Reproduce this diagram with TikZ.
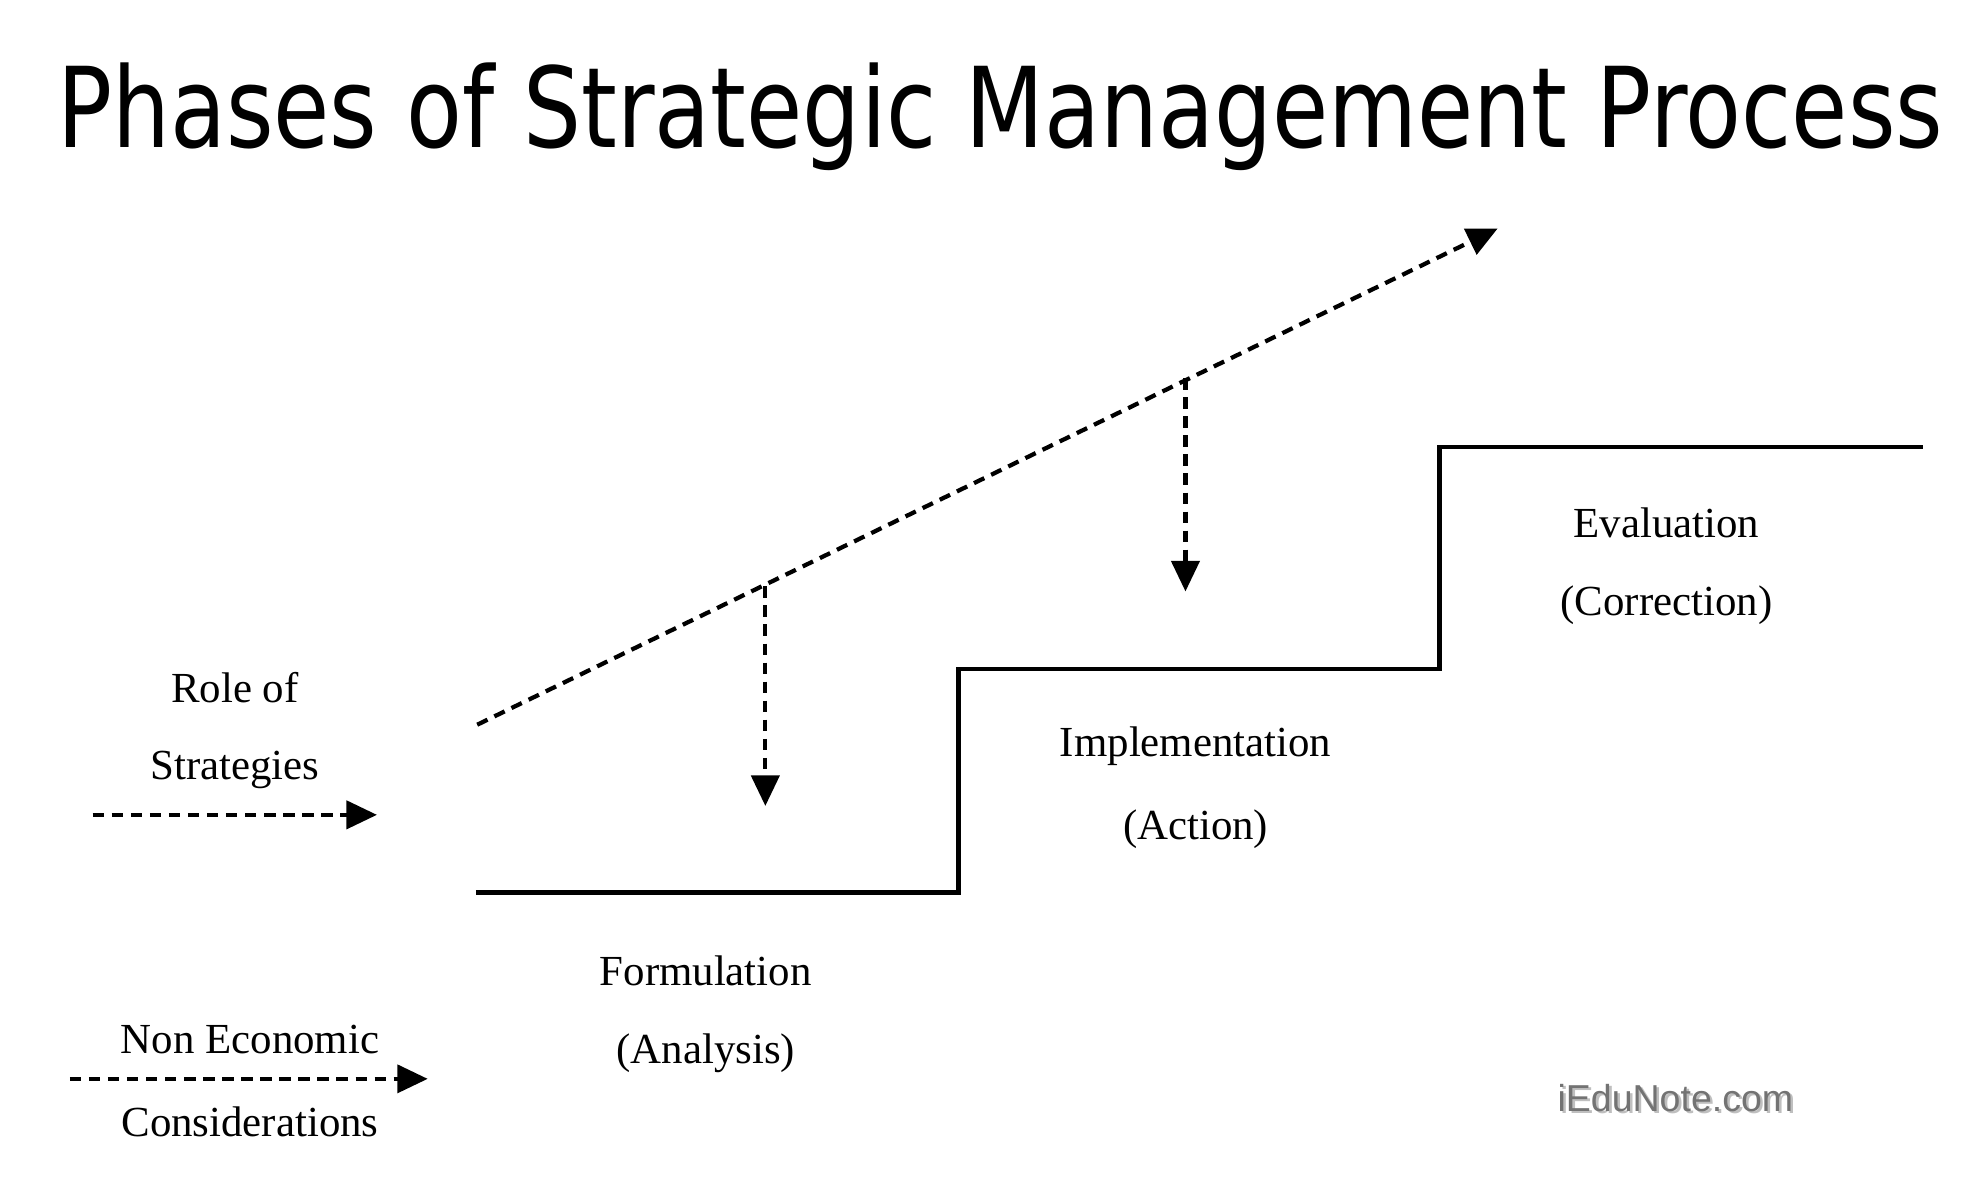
\documentclass[tikz,border=0pt]{standalone}
\usepackage{fontspec}
\setmainfont{Liberation Serif}
\newfontfamily\titlefont{DejaVu Sans}
\newfontfamily\markfont{Liberation Sans}
\usetikzlibrary{arrows.meta}
\tikzset{
  dasharrow/.style={line width=0.95pt,dash pattern=on 0.09cm off 0.06cm,-{Triangle[length=0.24cm,width=0.22cm]}},
  stair/.style={line width=1pt},
  lbl/.style={font=\fontsize{9.6}{12}\selectfont,inner sep=0pt}
}
\begin{document}
\begin{tikzpicture}[x=0.01cm,y=-0.01cm]
\useasboundingbox (0,0) rectangle (1560,940);
\node (title) at (788,92) {\scalebox{1}[1.22]{\resizebox{14.85cm}{!}{\titlefont Phases of Strategic Management Process}}};
\coordinate (d0) at (376,571); \coordinate (d1) at (1180,180);
\draw[dasharrow] (d0) -- (d1);
\coordinate (v1a) at (603,462); \coordinate (v1b) at (603,635);
\coordinate (v2a) at (934,298); \coordinate (v2b) at (934,466);
\draw[dasharrow] (v1a) -- (v1b);
\draw[dasharrow] (v2a) -- (v2b);
\coordinate (s0) at (375,703); \coordinate (s1) at (755,703); \coordinate (s2) at (755,527);
\coordinate (s3) at (1134,527); \coordinate (s4) at (1134,352); \coordinate (s5) at (1515,352);
\draw[stair] (s0) -- (s1) -- (s2) -- (s3) -- (s4) -- (s5);
\coordinate (l1a) at (73,642); \coordinate (l1b) at (297,642);
\draw[dasharrow] (l1a) -- (l1b);
\coordinate (l2a) at (55,850); \coordinate (l2b) at (337,850);
\draw[dasharrow] (l2a) -- (l2b);
\node[lbl] (r1) at (185,542) {Role of};
\node[lbl] (r2) at (185,607) {Strategies};
\node[lbl] (n1) at (197,819) {Non Economic};
\node[lbl] (n2) at (197,884) {Considerations};
\node[lbl] (f1) at (556,765) {Formulation};
\node[lbl] (f2) at (556,830) {(Analysis)};
\node[lbl] (i1) at (942,588) {Implementation};
\node[lbl] (i2) at (942,653) {(Action)};
\node[lbl] (e1) at (1313,412) {Evaluation};
\node[lbl] (e2) at (1313,477) {(Correction)};
\node[font=\markfont\fontsize{8.4}{10}\selectfont,text=black!25,inner sep=0pt] at (1322,867) {iEduNote.com};
\node[font=\markfont\fontsize{8.4}{10}\selectfont,text=black!55,inner sep=0pt] (logo) at (1320,865) {iEduNote.com};
\end{tikzpicture}
\end{document}
